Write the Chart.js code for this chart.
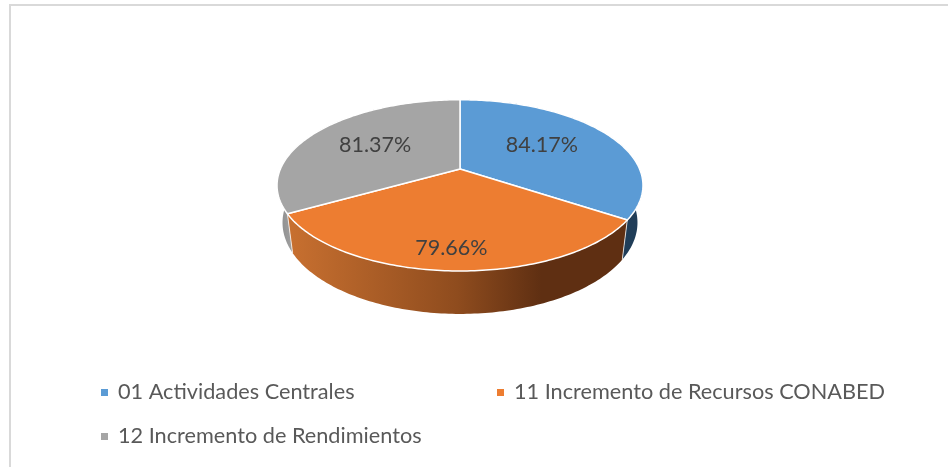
<!DOCTYPE html>
<html><head><meta charset="utf-8">
<style>html,body{margin:0;padding:0;background:#fff;overflow:hidden}canvas{display:block}</style>
<script src="https://cdn.jsdelivr.net/npm/chart.js@4"></script>
</head><body><canvas id="c" width="948" height="467"></canvas>
<script>
const categories = ['01 Actividades Centrales','11 Incremento de Recursos CONABED','12 Incremento de Rendimientos'];
const percentValues = [84.17, 79.66, 81.37];
const sliceColors = ['#5b9bd5','#ed7d31','#a5a5a5'];
const labelRadii = [0.55, 0.8, 0.57];
const labelNudgeX = [-1, -2.5, -1];
const labelNudgeY = [-4, 1, -1];

// perspective view of the pie disc
const view = {cx:460, cy:169, A:82.5, B:179.6, p:0.191, depth:36.2, k:0.066, sx:0.97};
function top3(theta, r){
  const u = r*Math.sin(theta), v = -r*Math.cos(theta), d = 1 - view.p*v;
  return [view.cx + view.B*u/d, view.cy + view.A*v/d];
}
function bottom3(theta){
  const [x,y] = top3(theta,1);
  return [view.cx + (x-view.cx)*view.sx, y + view.depth + view.k*(y-view.cy)];
}
function thetaRange(el){ return [el.startAngle + Math.PI/2, el.endAngle + Math.PI/2]; }
const STEPS = 120;

const pie3d = {
  id:'pie3d',
  beforeDraw(chart){
    const ctx = chart.ctx;
    ctx.save();
    ctx.strokeStyle = '#d9d9d9'; ctx.lineWidth = 2;
    ctx.beginPath(); ctx.moveTo(10,467); ctx.lineTo(10,5); ctx.lineTo(948,5); ctx.stroke();
    ctx.restore();
  },
  beforeDatasetDraw(chart, args){
    const ctx = chart.ctx, els = args.meta.data;
    ctx.save();
    // walls: back first, front slice (orange) last
    [0,2,1].forEach(i=>{
      const [a,b] = thetaRange(els[i]);
      ctx.beginPath();
      for(let s=0;s<=STEPS;s++){ const p = top3(a+(b-a)*s/STEPS,1); s?ctx.lineTo(p[0],p[1]):ctx.moveTo(p[0],p[1]); }
      for(let s=STEPS;s>=0;s--){ const p = bottom3(a+(b-a)*s/STEPS); ctx.lineTo(p[0],p[1]); }
      ctx.closePath();
      let fill;
      if(i===1){
        fill = ctx.createLinearGradient(288,0,626,0);
        fill.addColorStop(0,'#c87030'); fill.addColorStop(0.5,'#8f4c1e'); fill.addColorStop(0.75,'#5f2f12'); fill.addColorStop(1,'#5f2f12');
      } else if(i===0){ fill = '#203d58'; }
      else {
        fill = ctx.createLinearGradient(277,0,292,0);
        fill.addColorStop(0,'#8a8a8a'); fill.addColorStop(1,'#a0a0a0');
      }
      ctx.fillStyle = fill; ctx.fill();
    });
    // light seams at the wall corners
    ctx.strokeStyle='rgba(255,255,255,0.75)'; ctx.lineWidth=1;
    [els[0].endAngle, els[1].endAngle].forEach(e=>{
      const t = e+Math.PI/2, p=top3(t,1), q=bottom3(t);
      ctx.beginPath(); ctx.moveTo(p[0],p[1]); ctx.lineTo(q[0],q[1]); ctx.stroke();
    });
    // top faces
    els.forEach((el,i)=>{
      const [a,b] = thetaRange(el);
      ctx.beginPath(); ctx.moveTo(view.cx,view.cy);
      for(let s=0;s<=STEPS;s++){ const p = top3(a+(b-a)*s/STEPS,1); ctx.lineTo(p[0],p[1]); }
      ctx.closePath();
      ctx.fillStyle = sliceColors[i]; ctx.fill();
      ctx.strokeStyle='#fff'; ctx.lineWidth=1.5; ctx.lineJoin='round'; ctx.stroke();
    });
    ctx.restore();
    return false;
  },
  afterDraw(chart){
    const ctx = chart.ctx, els = chart.getDatasetMeta(0).data;
    ctx.save();
    ctx.textBaseline='middle'; ctx.textAlign='center';
    ctx.fillStyle='#404040'; ctx.font='21.5px Lato';
    els.forEach((el,i)=>{
      const [a,b] = thetaRange(el), p = top3((a+b)/2, labelRadii[i]);
      ctx.fillText(percentValues[i].toFixed(2)+'%', p[0]+labelNudgeX[i], p[1]+labelNudgeY[i]);
    });
    // legend
    const cols=[101,497], rows=[392.5,436.5];
    ctx.textAlign='left'; ctx.font='21.7px Lato';
    categories.forEach((name,i)=>{
      const x=cols[i%2], y=rows[Math.floor(i/2)];
      ctx.fillStyle=sliceColors[i]; ctx.fillRect(x,y-3.5,7,7);
      ctx.fillStyle='#595959'; ctx.fillText(name,x+17,y);
    });
    ctx.restore();
  }
};

new Chart(document.getElementById('c'),{
  type:'pie',
  data:{labels:categories,datasets:[{data:percentValues,backgroundColor:sliceColors,borderColor:'#fff'}]},
  options:{responsive:false,animation:false,
    plugins:{legend:{display:false},tooltip:{enabled:false}}},
  plugins:[pie3d]
});
</script></body></html>
